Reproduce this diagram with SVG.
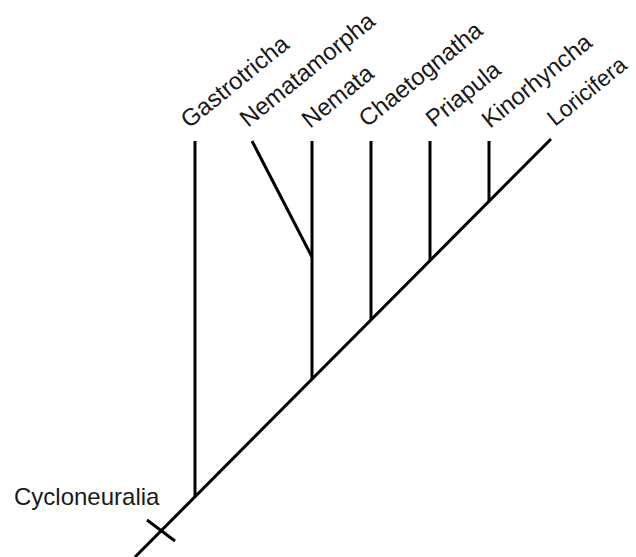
<svg xmlns="http://www.w3.org/2000/svg" width="636" height="557" viewBox="0 0 636 557">
<style>
.l{stroke:#000;stroke-width:3;fill:none;stroke-linecap:butt}
.t{font-family:"Liberation Sans",Arial,sans-serif;font-size:24px;fill:#1a1a1a}
</style>
<rect width="636" height="557" fill="#fff"/>
<g id="connectors">
<line class="l" x1="135" y1="557" x2="551" y2="139"/>
<line class="l" x1="195" y1="141" x2="195" y2="497"/>
<line class="l" x1="252" y1="141" x2="312" y2="257"/>
<line class="l" x1="312" y1="141" x2="312" y2="379"/>
<line class="l" x1="371" y1="141" x2="371" y2="320"/>
<line class="l" x1="430" y1="141" x2="430" y2="261"/>
<line class="l" x1="489" y1="141" x2="489" y2="201"/>
<line class="l" x1="147" y1="520" x2="175" y2="541"/>
</g>
<g id="Gastrotricha"><text class="t" transform="translate(189,129) rotate(-39)">Gastrotricha</text></g>
<g id="Nematamorpha"><text class="t" transform="translate(248,128) rotate(-39)">Nematamorpha</text></g>
<g id="Nemata"><text class="t" transform="translate(310,129) rotate(-39)">Nemata</text></g>
<g id="Chaetognatha"><text class="t" transform="translate(367,128) rotate(-39)">Chaetognatha</text></g>
<g id="Priapula"><text class="t" transform="translate(434,128) rotate(-39)">Priapula</text></g>
<g id="Kinorhyncha"><text class="t" transform="translate(490,129) rotate(-39)">Kinorhyncha</text></g>
<g id="Loricifera"><text class="t" transform="translate(555,127) rotate(-39)" style="font-size:23px">Loricifera</text></g>
<g id="Cycloneuralia"><text class="t" x="14" y="505">Cycloneuralia</text></g>
</svg>
